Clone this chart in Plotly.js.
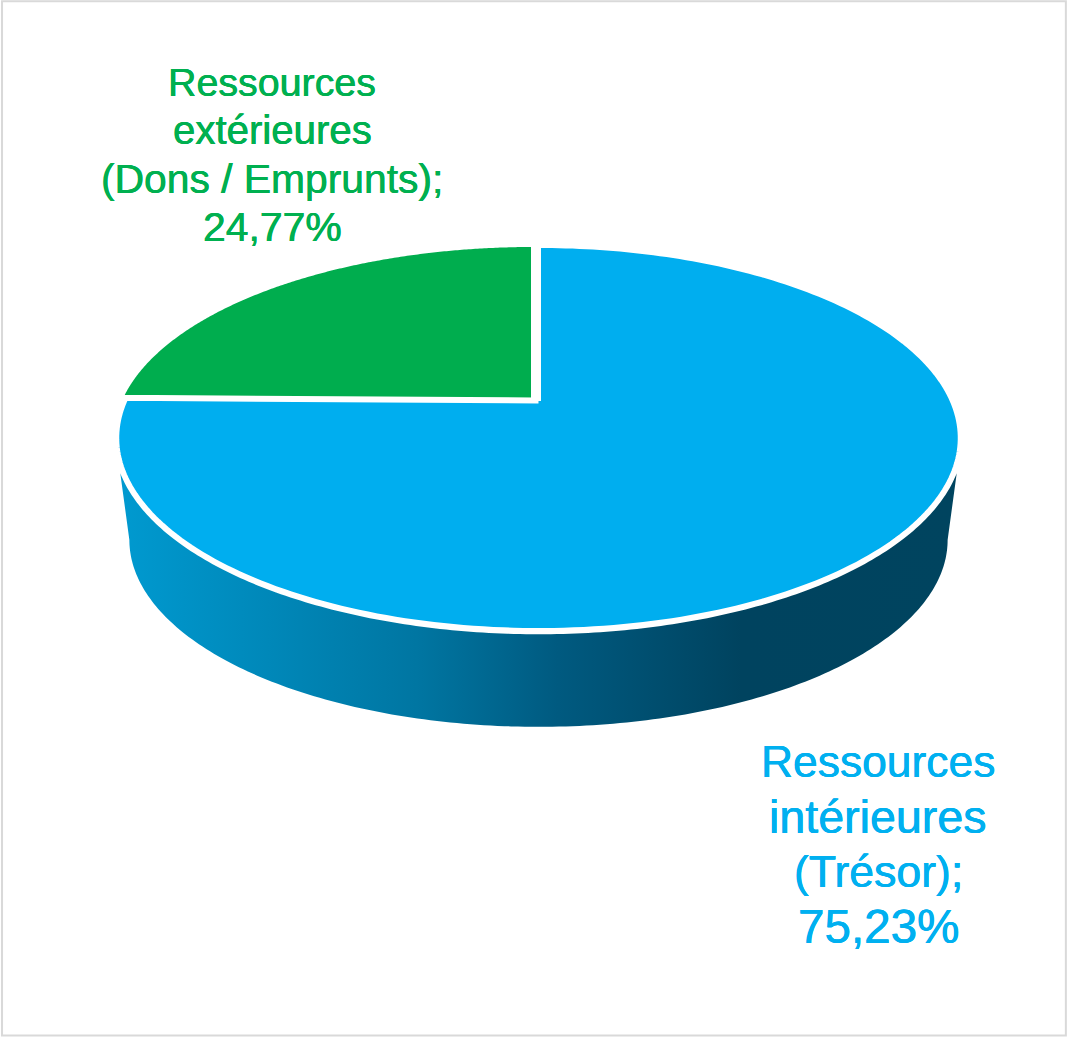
<!DOCTYPE html>
<html>
<head>
<meta charset="utf-8">
<script src="https://cdn.plot.ly/plotly-3.0.1.min.js"></script>
<style>html,body{margin:0;padding:0;background:#fff;overflow:hidden}
.js-line{stroke-linejoin:miter !important;stroke-miterlimit:4 !important}</style>
</head>
<body>
<div id="chart" style="width:1068px;height:1037px"></div>
<script>
// Data
const categories = ["Ressources intérieures (Trésor)", "Ressources extérieures (Dons / Emprunts)"];
const shares = [75.23, 24.77];
const labelLinesBlue = ["Ressources", "intérieures", "(Trésor);"];
const labelLinesGreen = ["Ressources", "extérieures", "(Dons / Emprunts);"];
const sliceColors = ["#00AEEF", "#00AD4E"];
const labelColors = ["#00B0F0", "#00B050"];
const wallStops = [[0, "#0099CF"], [0.35, "#0076A2"], [0.52, "#005A80"], [0.74, "#00435F"], [1, "#00445F"]];
const lineSizesBlue = [44.4, 46.6, 44.6, 47.6];
const lineSizesGreen = [39.4, 40.2, 40.8, 40.9];

// Perspective disc: unit-circle point -> page pixel
const W = 1068, H = 1037, k = 0.1922;
const topDisc = {cx: 538.5, cy: 401, a: 413.9, b: 185.4};
const rimDisc = {cx: 538.5, cy: 401, a: 417, b: 188.4};
const baseDisc = {cx: 538.5, cy: 504, a: 401.5, b: 180};
function project(d, theta, dx, dy) {
  const u = Math.sin(theta), v = -Math.cos(theta), w = 1 - k * v;
  return [d.cx + (dx || 0) + d.a * u / w, d.cy + (dy || 0) + d.b * v / w];
}
function range(a, b, n) { const o = []; for (let i = 0; i <= n; i++) o.push(a + (b - a) * i / n); return o; }

// Slices, from 12 o'clock clockwise
const total = shares.reduce((s, x) => s + x, 0);
const explode = [[0, 0], [-5, -1]];
let start = 0;
const sliceTraces = shares.map((s, i) => {
  const end = start + 2 * Math.PI * s / total;
  const [dx, dy] = explode[i];
  const pts = [[topDisc.cx + dx, topDisc.cy + dy]].concat(range(start, end, 240).map(t => project(topDisc, t, dx, dy)));
  pts.push(pts[0]);
  start = end;
  return {
    type: "scatter", mode: "lines", x: pts.map(p => p[0]), y: pts.map(p => p[1]),
    fill: "toself", fillcolor: sliceColors[i],
    line: {color: "#FFFFFF", width: 5, simplify: false},
    name: categories[i], text: categories[i] + ": " + s + "%", hoverinfo: "text", showlegend: false
  };
});

// Side wall of the disc
const vRim = 0.357, vBase = k;
const tRimR = Math.PI - Math.acos(vRim), tRimL = Math.PI + Math.acos(vRim);
const tBaseR = Math.PI - Math.acos(vBase), tBaseL = Math.PI + Math.acos(vBase);
const wallPts = range(tRimR, tRimL, 200).map(t => project(rimDisc, t))
  .concat(range(tBaseL, tBaseR, 200).map(t => project(baseDisc, t)));
wallPts.push(wallPts[0]);
const wall = {
  type: "scatter", mode: "lines", x: wallPts.map(p => p[0]), y: wallPts.map(p => p[1]),
  fill: "toself",
  fillgradient: {type: "horizontal", start: 125, stop: 958, colorscale: wallStops},
  line: {width: 0, simplify: false}, hoverinfo: "skip", showlegend: false
};

// Labels, one annotation per line
function pct(v) { return v.toFixed(2).replace(".", ",") + "%"; }
function labelAnns(lines, value, color, sizes, xc, firstBaseline, step) {
  return lines.concat([pct(value)]).map((txt, i) => ({
    xref: "x", yref: "y", x: xc, y: firstBaseline + i * step - sizes[0] * 0.30,
    text: txt, showarrow: false, xanchor: "center", yanchor: "middle",
    font: {family: "Liberation Sans, Arial, sans-serif", size: sizes[i], color: color,
           shadow: "0.3px 0 0 " + color + ", -0.3px 0 0 " + color}
  }));
}
const annotations = labelAnns(labelLinesGreen, shares[1], labelColors[1], lineSizesGreen, 272, 93.5, 48.6)
  .concat(labelAnns(labelLinesBlue, shares[0], labelColors[0], lineSizesBlue, 878, 775, 55));

Plotly.newPlot("chart", [wall].concat(sliceTraces), {
  width: W, height: H, margin: {l: 0, r: 0, t: 0, b: 0, pad: 0},
  paper_bgcolor: "#FFFFFF", plot_bgcolor: "#FFFFFF", showlegend: false,
  xaxis: {range: [0, W], visible: false, fixedrange: true},
  yaxis: {range: [H, 0], visible: false, fixedrange: true},
  annotations: annotations,
  shapes: [{type: "rect", xref: "paper", yref: "paper", x0: 0.0019, x1: 0.998, y0: 0.0015, y1: 0.9988,
            line: {color: "#D9D9D9", width: 2}, fillcolor: "rgba(0,0,0,0)"}]
}, {displayModeBar: false});
</script>
</body>
</html>
